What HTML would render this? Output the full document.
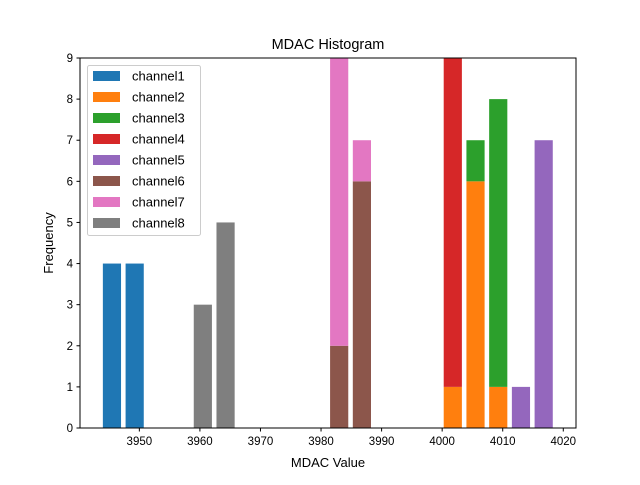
<!DOCTYPE html>
<html><head><meta charset="utf-8"><style>
body{margin:0;background:#fff}
svg{font-family:"Liberation Sans","DejaVu Sans",sans-serif}
</style></head><body>
<svg id="chart" width="640" height="480" xmlns="http://www.w3.org/2000/svg">
<rect width="640" height="480" fill="#fff"/>
<text x="328" y="49" font-size="14.5" text-anchor="middle">MDAC Histogram</text>
<g id="bars"></g>
<g id="xticks"></g>
<g id="yticks"></g>
<rect x="80" y="58" width="496" height="370" fill="none" stroke="#000" stroke-width="1"/>
<text x="328" y="467" font-size="13" text-anchor="middle">MDAC Value</text>
<text transform="translate(53,243) rotate(-90)" font-size="13" text-anchor="middle">Frequency</text>
<g id="legend"></g>
</svg>
<script>
const channels=["channel1","channel2","channel3","channel4","channel5","channel6","channel7","channel8"];
const colors=["#1f77b4","#ff7f0e","#2ca02c","#d62728","#9467bd","#8c564b","#e377c2","#7f7f7f"];
const binStart=3943.6, binWidth=3.752, nBins=20;
// counts[channel][bin]
const ch1=[4,4,0,0,0,0,0,0,0,0,0,0,0,0,0,0,0,0,0,0];
const ch2=[0,0,0,0,0,0,0,0,0,0,0,0,0,0,0,1,6,1,0,0];
const ch3=[0,0,0,0,0,0,0,0,0,0,0,0,0,0,0,0,1,7,0,0];
const ch4=[0,0,0,0,0,0,0,0,0,0,0,0,0,0,0,8,0,0,0,0];
const ch5=[0,0,0,0,0,0,0,0,0,0,0,0,0,0,0,0,0,0,1,7];
const ch6=[0,0,0,0,0,0,0,0,0,0,2,6,0,0,0,0,0,0,0,0];
const ch7=[0,0,0,0,0,0,0,0,0,0,7,1,0,0,0,0,0,0,0,0];
const ch8=[0,0,0,0,3,5,0,0,0,0,0,0,0,0,0,0,0,0,0,0];
const xTicks=[3950,3960,3970,3980,3990,4000,4010,4020];
const yTicks=[0,1,2,3,4,5,6,7,8,9];
const series=[ch1,ch2,ch3,ch4,ch5,ch6,ch7,ch8];
const xmin=3940.2,xmax=4022.1,ymin=0,ymax=9;
const L=80,R=576,T=58,B=428;
const X=v=>L+(v-xmin)/(xmax-xmin)*(R-L);
const Y=v=>B-(v-ymin)/(ymax-ymin)*(B-T);
const NS="http://www.w3.org/2000/svg";
function mk(tag,attrs,parent){const e=document.createElementNS(NS,tag);for(const k in attrs)e.setAttribute(k,attrs[k]);parent.appendChild(e);return e;}
const gb=document.getElementById('bars');
const base=new Array(nBins).fill(0);
series.forEach((s,ci)=>{s.forEach((c,bi)=>{if(c>0){
 const x0=binStart+bi*binWidth+0.1*binWidth, x1=x0+0.8*binWidth;
 const r=mk('rect',{x:X(x0),y:Y(base[bi]+c),width:X(x1)-X(x0),height:Y(base[bi])-Y(base[bi]+c),fill:colors[ci]},gb);
 
 
 base[bi]+=c;}});});
const gx=document.getElementById('xticks');
xTicks.forEach(t=>{const x=X(t);
 const l=mk('line',{x1:x,x2:x,y1:B,y2:B+3.5,stroke:'#000'},gx);
 
 
 const tx=mk('text',{x:x,y:B+17,'font-size':'11.5','text-anchor':'middle'},gx);tx.textContent=t;
 
 });
const gy=document.getElementById('yticks');
yTicks.forEach(t=>{const y=Y(t);
 const l=mk('line',{x1:L-3.5,x2:L,y1:y,y2:y,stroke:'#000'},gy);
 
 
 const tx=mk('text',{x:L-7,y:y+4,'font-size':'11.5','text-anchor':'end'},gy);tx.textContent=t;
 
 });
const lg=document.getElementById('legend');
const box=mk('rect',{x:87.5,y:65.5,width:113,height:170,rx:2,fill:'#fff','fill-opacity':0.8,stroke:'#ccc'},lg);


channels.forEach((n,i)=>{const y=71+i*21;
 const p=mk('rect',{x:93,y:y,width:27,height:10,fill:colors[i]},lg);
 
 
 const t=mk('text',{x:132,y:y+9.5,'font-size':'13'},lg);t.textContent=n;
 
 });
</script>
</body></html>
